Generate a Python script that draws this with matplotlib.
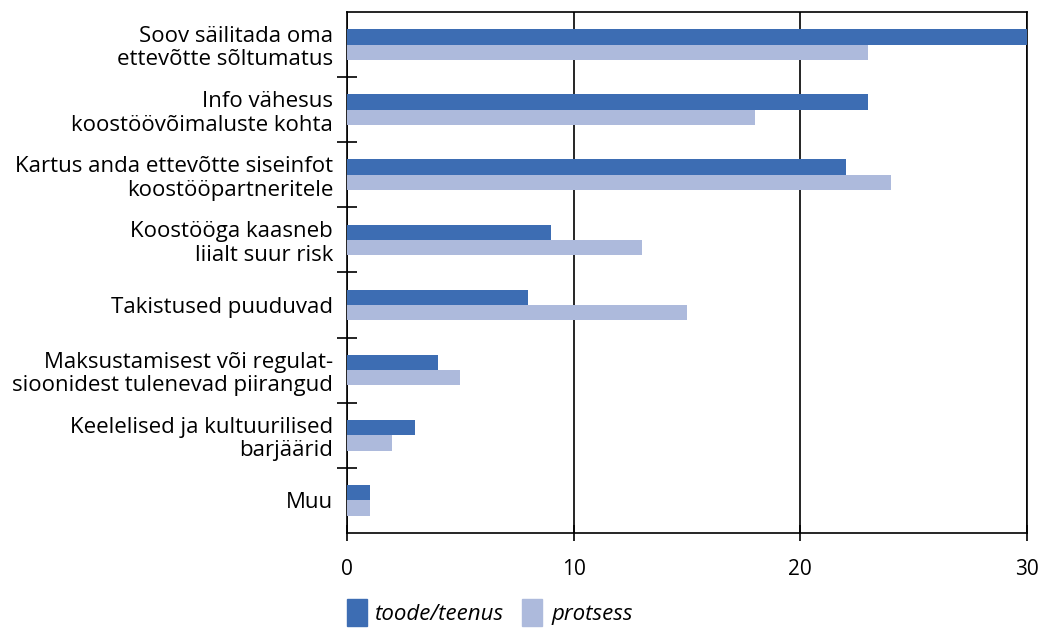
import numpy as np
import matplotlib.pyplot as plt
from matplotlib.patches import Patch

plt.rcParams['font.family'] = ['Open Sans', 'DejaVu Sans']

categories = [
    "Soov säilitada oma\nettevõtte sõltumatus",
    "Info vähesus\nkoostöövõimaluste kohta",
    "Kartus anda ettevõtte siseinfot\nkoostööpartneritele",
    "Koostööga kaasneb\nliialt suur risk",
    "Takistused puuduvad",
    "Maksustamisest või regulat-\nsioonidest tulenevad piirangud",
    "Keelelised ja kultuurilised\nbarjäärid",
    "Muu",
]
toode_teenus = [30, 23, 22, 9, 8, 4, 3, 1]
protsess = [23, 18, 24, 13, 15, 5, 2, 1]
series_names = ["toode/teenus", "protsess"]
xticks = [0, 10, 20, 30]

dark = "#3d6db3"
light = "#adbadc"

fig = plt.figure(figsize=(10.4, 6.3), dpi=100)
ax = fig.add_axes([0.3337, 0.154, 0.6538, 0.827])

y = np.arange(len(categories))
h = 0.235
ax.barh(y - h / 2, toode_teenus, height=h, color=dark, zorder=3)
ax.barh(y + h / 2, protsess, height=h, color=light, zorder=3)

ax.set_xlim(0, 30)
ax.set_ylim(len(categories) - 0.5, -0.5)
ax.set_xticks(xticks)
ax.set_xticklabels([str(v) for v in xticks], fontsize=15)
ax.tick_params(axis='x', direction='inout', length=12, width=1.2, pad=13)

ax.set_yticks(y)
ax.set_yticklabels(categories, fontsize=16, linespacing=1.15)
ax.tick_params(axis='y', which='major', length=0, pad=10)
ax.set_yticks(np.arange(0.5, len(categories) - 1, 1), minor=True)
ax.tick_params(axis='y', which='minor', direction='inout', length=14, width=1.2)

ax.xaxis.grid(True, color='black', linewidth=1.2)
ax.set_axisbelow(True)
for s in ax.spines.values():
    s.set_linewidth(1.2)

handles = [Patch(color=dark), Patch(color=light)]
fig.legend(handles, series_names, loc='lower left', bbox_to_anchor=(0.314, -0.025),
           ncol=2, frameon=False, handlelength=0.9, handleheight=1.5,
           handletextpad=0.4, columnspacing=0.8,
           prop={'size': 16, 'style': 'italic'})

fig.savefig("out.png", dpi=100)
